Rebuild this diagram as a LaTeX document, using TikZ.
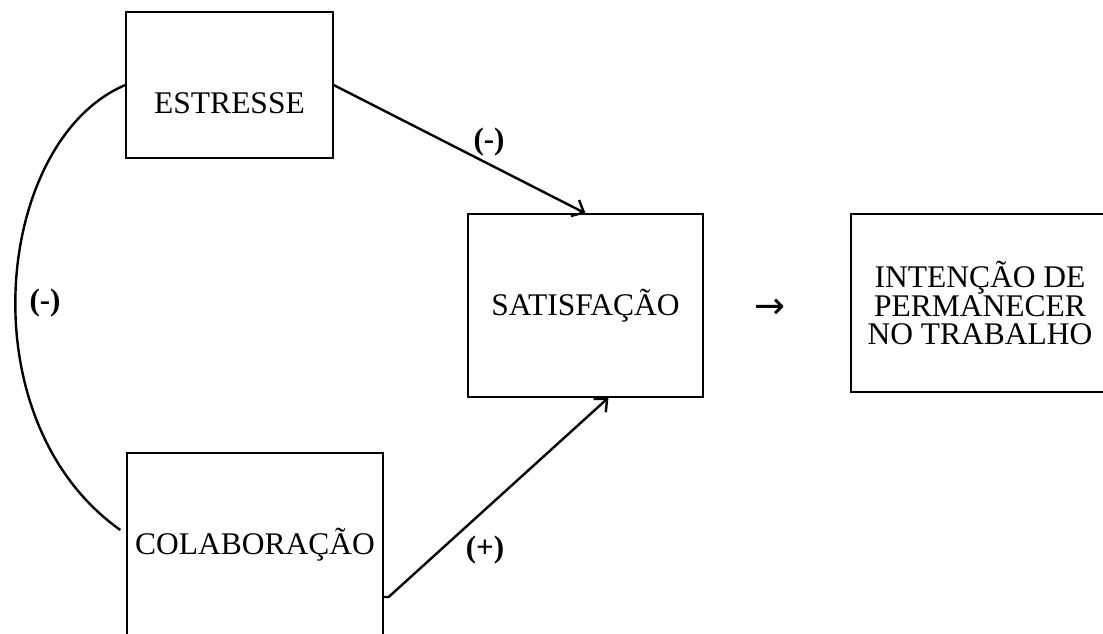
\documentclass[tikz,border=0pt]{standalone}
\usepackage{fontspec}
\setmainfont{Liberation Serif}
\newfontfamily\symfont{DejaVu Sans}
\usetikzlibrary{arrows.meta,calc}

\begin{document}
\begin{tikzpicture}[
  x=1pt,y=-1pt,
  box/.style={draw=black,line width=1.3pt,align=center,inner sep=0pt,
              font=\fontsize{31.5}{28.5}\selectfont},
  sign/.style={font=\fontsize{31}{31}\selectfont\bfseries},
  arr/.style={-{Straight Barb[length=10pt,width=18pt,line width=2.4pt]},line width=2.4pt},
  link/.style={line width=2.4pt}
]
\useasboundingbox (0,0) rectangle (1103,633);
\node[box,minimum width=207pt,minimum height=146pt,text height=56pt,text depth=0pt] (estr) at (229.5,85) {ESTRESSE};
\node[box,minimum width=235pt,minimum height=183pt] (sat) at (585.5,305.5) {SATISFAÇÃO};
\node[box,minimum width=258pt,minimum height=178pt] (int) at (980,303) {INTENÇÃO DE\\PERMANECER\\NO TRABALHO};
\node[box,minimum width=256pt,minimum height=184pt] (colab) at (255,545) {COLABORAÇÃO};
\node[font=\symfont\fontsize{37}{37}\selectfont] (seta) at (770,309) {→};
\draw[arr] (estr.east)--(sat.north);
\draw[arr] (colab.-22)--++(5,0)--(sat.-76);
\draw[link] (estr.west) .. controls (-5,140) and (-35,420) .. ($(colab.west)+(-6,-15)$);
\node[sign] (s1) at (489,142) {(-)};
\node[sign] (s2) at (485,550) {(+)};
\node[sign] (s3) at (45,303) {(-)};
\end{tikzpicture}
\end{document}
